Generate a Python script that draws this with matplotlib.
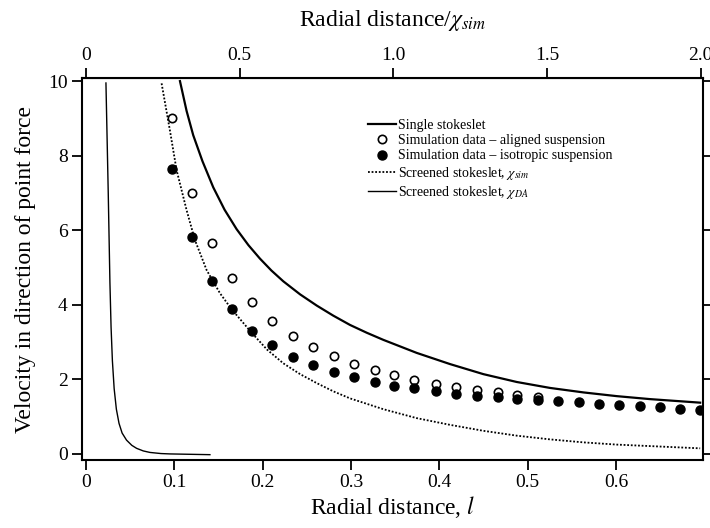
import matplotlib
matplotlib.use("Agg")
import matplotlib.pyplot as plt

plt.rcParams['font.family'] = ['Liberation Serif', 'DejaVu Serif']
plt.rcParams['mathtext.fontset'] = 'stix'

# radial distance of the simulation points
l_pts = [0.097, 0.120, 0.143, 0.165, 0.188, 0.211, 0.234, 0.257, 0.281, 0.304,
         0.327, 0.349, 0.372, 0.396, 0.419, 0.443, 0.466, 0.488, 0.512, 0.535,
         0.558, 0.581, 0.603, 0.627, 0.650, 0.673, 0.695]

# simulation data - aligned suspension (visible points)
v_aligned = [9.01, 7.00, 5.66, 4.72, 4.07, 3.57, 3.17, 2.88, 2.62, 2.42,
             2.25, 2.11, 1.99, 1.88, 1.80, 1.72, 1.65, 1.58, 1.53]

# simulation data - isotropic suspension
v_iso = [7.64, 5.82, 4.64, 3.89, 3.31, 2.91, 2.61, 2.38, 2.19, 2.06,
         1.93, 1.83, 1.76, 1.68, 1.62, 1.56, 1.52, 1.47, 1.45, 1.42,
         1.39, 1.35, 1.32, 1.29, 1.25, 1.21, 1.19]

# single stokeslet
l_single = [0.1065, 0.114, 0.1215, 0.132, 0.1442, 0.157, 0.1706, 0.184, 0.197,
            0.21, 0.2235, 0.2425, 0.2613, 0.28, 0.299, 0.318, 0.3367, 0.3745,
            0.4122, 0.45, 0.4877, 0.5255, 0.5632, 0.601, 0.6387, 0.6954]
v_single = [10.0, 9.2, 8.55, 7.85, 7.15, 6.55, 6.03, 5.6, 5.24,
            4.92, 4.63, 4.28, 3.98, 3.71, 3.46, 3.25, 3.06, 2.71,
            2.41, 2.14, 1.93, 1.77, 1.65, 1.55, 1.47, 1.375]

# screened stokeslet, chi_sim
l_sim = [0.0857, 0.0951, 0.1027, 0.114, 0.1234, 0.1367, 0.1518, 0.165, 0.1877,
         0.205, 0.2235, 0.2425, 0.2613, 0.28, 0.299, 0.3367, 0.3745, 0.4122,
         0.45, 0.4877, 0.5255, 0.5632, 0.601, 0.6387, 0.6954]
v_sim = [9.94, 8.68, 7.61, 6.54, 5.74, 4.93, 4.31, 3.88, 3.25,
         2.80, 2.43, 2.14, 1.90, 1.68, 1.49, 1.20, 0.96, 0.78,
         0.62, 0.49, 0.39, 0.31, 0.25, 0.21, 0.15]

# screened stokeslet, chi_DA
l_da = [0.0227, 0.0253, 0.0272, 0.0285, 0.030, 0.032, 0.0345, 0.0375, 0.041,
        0.046, 0.052, 0.0574, 0.065, 0.0725, 0.085, 0.0951, 0.1404]
v_da = [9.95, 7.0, 4.6, 3.4, 2.5, 1.75, 1.2, 0.82, 0.56,
        0.37, 0.23, 0.15, 0.08, 0.04, 0.01, 0.0, -0.02]

chi_sim = 0.348

fig = plt.figure(figsize=(7.1, 5.28), dpi=100)
ax = fig.add_axes([0.116, 0.129, 0.874, 0.723])

ax.plot(l_single, v_single, color='black', lw=1.6, label='Single stokeslet')
ax.plot(l_pts[:len(v_aligned)], v_aligned, 'o', mfc='white', mec='black',
        mew=1.2, ms=6, ls='none', zorder=3,
        label='Simulation data \u2013 aligned suspension')
ax.plot(l_pts, v_iso, 'o', color='black', ms=6.5, ls='none', zorder=4,
        label='Simulation data \u2013 isotropic suspension')
ax.plot(l_sim, v_sim, color='black', lw=1.3, ls=(0, (1, 1)),
        label=r'Screened stokeslet, $\chi_{sim}$')
ax.plot(l_da, v_da, color='black', lw=1.0,
        label=r'Screened stokeslet, $\chi_{DA}$')

ax.set_xlim(-0.004, 0.6985)
ax.set_ylim(-0.16, 10.08)
ax.set_xticks([0, 0.1, 0.2, 0.3, 0.4, 0.5, 0.6])
ax.set_xticklabels(['0', '0.1', '0.2', '0.3', '0.4', '0.5', '0.6'])
ax.set_yticks([0, 2, 4, 6, 8, 10])
ax.tick_params(direction='out', length=7, width=1.3, labelsize=14,
               right=True, labelright=False)
for s in ax.spines.values():
    s.set_linewidth(1.5)

ax.set_xlabel(r'Radial distance, $l$', fontsize=17, labelpad=2)
ax.set_ylabel('Velocity in direction of point force', fontsize=17, labelpad=9)

top = ax.secondary_xaxis('top', functions=(lambda x: x / chi_sim,
                                           lambda t: t * chi_sim))
top.set_xticks([0, 0.5, 1.0, 1.5, 2.0])
top.set_xticklabels(['0', '0.5', '1.0', '1.5', '2.0'])
top.tick_params(direction='out', length=7, width=1.3, labelsize=14)
top.set_xlabel(r'Radial distance/$\chi_{sim}$', fontsize=17, labelpad=15)

ax.legend(loc='upper left', bbox_to_anchor=(0.449, 0.912), frameon=False,
          fontsize=10, handlelength=2.0, handletextpad=0.15,
          labelspacing=0.17, borderpad=0)

fig.savefig('out.png', dpi=100)
